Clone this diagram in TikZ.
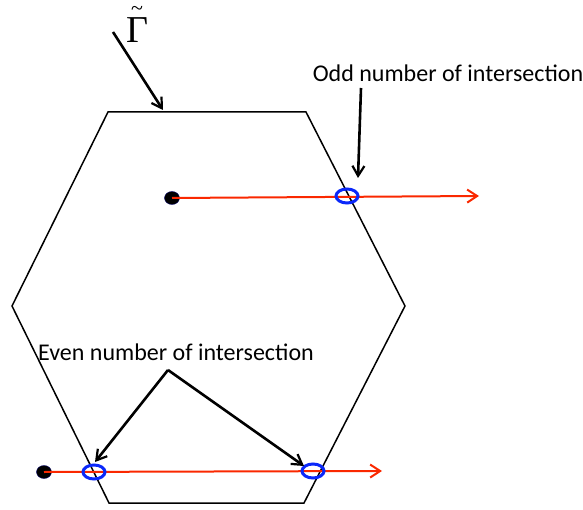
\documentclass[tikz,border=0pt]{standalone}
\usepackage{fontspec}
\setmainfont{Carlito}
\newfontfamily\gfont{Liberation Serif}
\usetikzlibrary{arrows.meta,shapes.geometric}
\definecolor{rayred}{RGB}{250,40,0}
\definecolor{ringblue}{RGB}{10,40,250}
\tikzset{
  hexline/.style={line width=1.5pt,black},
  ray/.style={line width=2pt,rayred,-{Straight Barb[length=10pt,width=13pt,line width=2pt]}},
  pointer/.style={line width=2.6pt,black,-{Straight Barb[length=10pt,width=12pt,line width=2.2pt]}},
  ring/.style={ellipse,draw=ringblue,line width=3pt,minimum width=22pt,minimum height=14pt,inner sep=0pt},
  dot/.style={ellipse,fill=black,draw=blue!40!black,line width=0.4pt,minimum width=15pt,minimum height=13pt,inner sep=0pt},
  lbl/.style={font=\fontsize{24}{28}\selectfont,inner sep=0pt}
}
\begin{document}
\begin{tikzpicture}[x=1pt,y=-1pt]
\useasboundingbox (0,0) rectangle (583,510);
% hexagon
\coordinate (h1) at (108,112);
\coordinate (h2) at (306,112);
\coordinate (h3) at (405,306);
\coordinate (h4) at (304,503);
\coordinate (h5) at (109,503);
\coordinate (h6) at (12,306);
\draw[hexline] (h1) -- (h2) -- (h3) -- (h4) -- (h5) -- (h6) -- cycle;
% upper ray
\node[dot] (d1) at (172,198) {};
\coordinate (e1) at (479,196);
\draw[ray] (d1.center) -- (e1);
\node[ring] (r1) at (347,196) {};
% lower ray
\node[dot] (d2) at (44,472) {};
\coordinate (e2) at (382,471);
\draw[ray] (d2.center) -- (e2);
\node[ring] (r2) at (94,472) {};
\node[ring] (r3) at (313,471) {};
% Gamma label
\node[inner sep=0pt,anchor=south] (g) at (137,46)
  {\gfont\begin{tabular}{@{}c@{}}\fontsize{22}{14}\selectfont\~{}\\[-2pt]\fontsize{38}{38}\selectfont Γ\end{tabular}};
\coordinate (gs) at (113,32);
\coordinate (gt) at (163,110);
\draw[pointer] (gs) -- (gt);
% odd label
\node[lbl,anchor=center] (odd) at (448,73) {Odd number of intersection};
\coordinate (os) at (361,88);
\draw[pointer] (os) -- (358,178);
% even label
\node[lbl,anchor=center] (even) at (176,352) {Even number of intersection};
\coordinate (apex) at (168,370);
\draw[pointer] (apex) -- (95,462);
\draw[pointer] (apex) -- (304,466);
\end{tikzpicture}
\end{document}
